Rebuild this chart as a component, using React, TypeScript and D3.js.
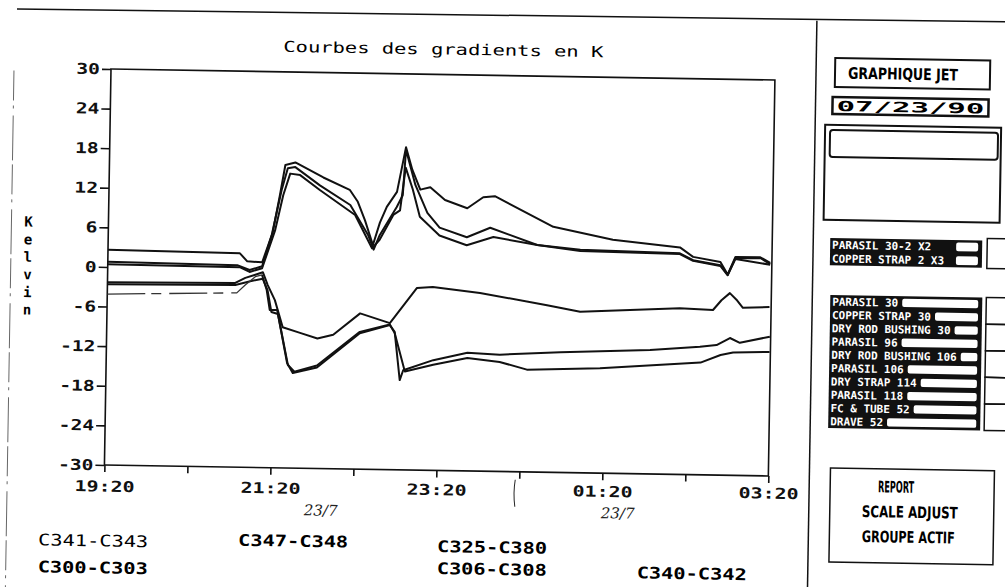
import React, { useEffect, useRef } from 'react';
import * as d3 from 'd3';

// time axis: hours after 19:20 (22/7), values in Kelvin
const xTickLabels = ['19:20', '21:20', '23:20', '01:20', '03:20'];
const yTicks = [30, 24, 18, 12, 6, 0, -6, -12, -18, -24, -30];

const u1Time = [0, 1.59, 1.68, 1.86, 1.95, 1.98, 2.06, 2.12, 2.24, 2.58, 2.9, 3.0, 3.09, 3.19, 3.27, 3.35, 3.47, 3.57, 3.65, 3.75, 3.87, 4.05, 4.32, 4.51, 4.65, 5.36, 6.08, 6.89, 7.05, 7.38, 7.47, 7.56, 7.86, 7.98];
const u1Kelvin = [2.6, 2.4, 1.2, 1.1, 4.5, 5.6, 11.3, 15.9, 16.3, 14.1, 12.3, 10.5, 7.7, 4.0, 7.4, 9.8, 12.1, 18.9, 15.5, 12.5, 12.9, 11.0, 9.8, 11.5, 11.7, 7.2, 5.4, 4.4, 3.0, 2.3, 0.4, 3.1, 3.1, 2.3];

const u2Time = [0, 1.56, 1.71, 1.86, 1.97, 2.08, 2.15, 2.24, 2.54, 2.91, 3.13, 3.2, 3.27, 3.47, 3.54, 3.57, 3.69, 3.84, 3.99, 4.32, 4.6, 5.17, 5.69, 6.89, 7.05, 7.38, 7.47, 7.56, 7.86, 7.98];
const u2Kelvin = [0.8, 0.6, -0.1, 0.5, 5.3, 12.1, 15.4, 15.6, 12.9, 10.0, 5.5, 3.3, 5.5, 9.8, 11.6, 18.5, 13.2, 9.0, 6.8, 5.4, 6.9, 4.4, 3.8, 3.5, 2.5, 1.8, 0.4, 2.9, 3.0, 2.1];

const u3Time = [0, 1.59, 1.71, 1.86, 2.01, 2.1, 2.18, 2.3, 2.54, 2.97, 3.18, 3.27, 3.43, 3.51, 3.57, 3.66, 3.75, 3.99, 4.32, 4.64, 5.17, 5.69, 6.89, 7.05, 7.38, 7.47, 7.56, 7.98];
const u3Kelvin = [0.4, 0.3, -0.4, 0.2, 6.0, 11.3, 14.6, 14.4, 12.2, 8.5, 3.5, 4.8, 8.6, 9.3, 15.8, 12.5, 8.4, 5.6, 4.2, 5.5, 4.4, 3.6, 3.4, 2.4, 1.7, 0.3, 2.8, 2.0];

const l1Time = [0, 1.54, 1.66, 1.78, 1.87, 1.93, 2.02, 2.12, 2.33, 2.54, 2.73, 3.05, 3.41, 3.73, 3.92, 4.49, 5.3, 5.7, 6.9, 7.3, 7.4, 7.5, 7.59, 7.66, 7.98];
const l1Kelvin = [-2.3, -2.1, -1.3, -0.8, -0.4, -2.3, -4.6, -8.7, -9.5, -10.3, -9.7, -6.4, -7.8, -2.4, -2.2, -3.0, -4.7, -5.6, -4.8, -5.0, -3.5, -2.4, -3.5, -4.6, -4.4];

// the dashed early trace, continued by l2
const e0Time = [0, 1.56, 1.66, 1.78, 1.86];
const e0Kelvin = [-4.1, -3.6, -2.4, -1.1, -0.8];

const l2Time = [1.86, 1.92, 1.96, 2.05, 2.18, 2.25, 2.54, 3.05, 3.41, 3.47, 3.54, 3.58, 3.94, 4.35, 4.74, 5.47, 6.55, 7.15, 7.35, 7.51, 7.63, 7.99];
const l2Kelvin = [-0.8, -3.1, -6.1, -6.1, -14.1, -15.6, -14.7, -9.4, -8.1, -9.1, -16.4, -14.9, -13.3, -12.1, -12.3, -11.8, -11.2, -10.6, -10.3, -9.2, -9.9, -8.9];

const l3Time = [0, 1.54, 1.72, 1.87, 1.93, 1.98, 2.06, 2.19, 2.27, 2.54, 3.05, 3.41, 3.47, 3.6, 3.94, 4.35, 4.74, 5.07, 5.95, 7.16, 7.4, 7.55, 7.99];
const l3Kelvin = [-2.6, -2.4, -1.8, -1.4, -3.1, -6.4, -6.7, -14.4, -15.4, -14.4, -9.2, -8.0, -9.3, -15.1, -14.0, -12.9, -13.4, -14.5, -14.1, -13.0, -11.8, -11.4, -11.2];

const pairRows = ['PARASIL 30-2 X2', 'COPPER STRAP 2 X3'];
const sensorRows = ['PARASIL 30', 'COPPER STRAP 30', 'DRY ROD BUSHING 30', 'PARASIL 96', 'DRY ROD BUSHING 106', 'PARASIL 106', 'DRY STRAP 114', 'PARASIL 118', 'FC & TUBE 52', 'DRAVE 52'];
const buttons = ['REPORT', 'SCALE ADJUST', 'GROUPE ACTIF'];
const groupLabels = ['C341-C343', 'C300-C303', 'C347-C348', 'C325-C380', 'C306-C308', 'C340-C342'];

const App: React.FC = () => {
  const ref = useRef<SVGSVGElement>(null);

  useEffect(() => {
    const svg = d3.select(ref.current);
    svg.selectAll('*').remove();
    // the scanned sheet is slightly tilted
    const g = svg.append('g').attr('transform', 'rotate(0.95 111 69)');

    const mono = "'DejaVu Sans Mono', monospace";
    const narrow = "'DejaVu Sans Condensed', 'Liberation Sans Narrow', 'DejaVu Sans', sans-serif";

    const x = d3.scaleLinear().domain([0, 8]).range([111, 775]);
    const y = d3.scaleLinear().domain([-30, 30]).range([465, 69]);

    // sheet borders
    g.append('line').attr('x1', 16).attr('y1', 10.5).attr('x2', 1012).attr('y2', 7)
      .attr('stroke', '#111').attr('stroke-width', 1.5);
    g.append('line').attr('x1', 14).attr('y1', 72).attr('x2', 14).attr('y2', 600)
      .attr('stroke', '#666').attr('stroke-width', 1).attr('stroke-dasharray', '30 5 3 7 45 4');
    g.append('line').attr('x1', 816).attr('y1', 9).attr('x2', 816).attr('y2', 600)
      .attr('stroke', '#111').attr('stroke-width', 1.5);

    g.append('text').attr('x', 443).attr('y', 49).attr('text-anchor', 'middle')
      .attr('font-family', mono).attr('font-size', 15)
      .attr('textLength', 320).attr('lengthAdjust', 'spacingAndGlyphs')
      .text('Courbes des gradients en K');

    // axes
    const yAxis = g.append('g').attr('transform', `translate(${x(0)},0)`)
      .call(d3.axisLeft(y).tickValues(yTicks).tickSize(9).tickPadding(2).tickFormat(d => String(d)));
    const xAxis = g.append('g').attr('transform', `translate(0,${y(-30)})`)
      .call(d3.axisBottom(x).tickValues(d3.range(0, 9)).tickSize(7).tickPadding(9)
        .tickFormat((d, i) => (i % 2 === 0 ? xTickLabels[i / 2] : '')));
    [yAxis, xAxis].forEach(a => {
      a.select('.domain').remove();
      a.selectAll('line').attr('stroke', '#111').attr('stroke-width', 1.6);
      a.selectAll('text')
        .attr('fill', '#111')
        .attr('font-family', mono)
        .attr('font-weight', 'bold')
        .attr('font-size', 15)
        .attr('lengthAdjust', 'spacingAndGlyphs');
    });
    yAxis.selectAll<SVGTextElement, number>('text').attr('textLength', d => String(d).length * 11.8);
    // labels sit a little flatter than the tilted axis line
    xAxis.selectAll<SVGTextElement, number>('text')
      .attr('textLength', (d, i) => (i % 2 === 0 ? 60 : 0))
      .attr('y', d => 16 - d * 0.5);

    g.append('rect').attr('x', x(0)).attr('y', y(30))
      .attr('width', x(8) - x(0)).attr('height', y(-30) - y(30))
      .attr('fill', 'none').attr('stroke', '#111').attr('stroke-width', 1.6);

    // y title, one letter per line
    g.append('g').selectAll('text').data('Kelvin'.split('')).join('text')
      .attr('x', 31).attr('y', (d, i) => 223 + i * 17.6)
      .attr('text-anchor', 'middle').attr('dominant-baseline', 'central')
      .attr('font-family', mono).attr('font-weight', 'bold').attr('font-size', 14)
      .text(d => d);

    // curves
    const curves = [
      { t: u1Time, v: u1Kelvin, dash: null },
      { t: u2Time, v: u2Kelvin, dash: null },
      { t: u3Time, v: u3Kelvin, dash: null },
      { t: l1Time, v: l1Kelvin, dash: null },
      { t: l2Time, v: l2Kelvin, dash: null },
      { t: l3Time, v: l3Kelvin, dash: null },
      { t: e0Time, v: e0Kelvin, dash: '38 6 10 8' },
    ];
    const line = d3.line<[number, number]>().x(d => x(d[0])).y(d => y(d[1]));
    g.append('g').selectAll('path').data(curves).join('path')
      .attr('d', c => line(c.t.map((t, i) => [t, c.v[i]] as [number, number])))
      .attr('fill', 'none')
      .attr('stroke', c => (c.dash ? '#333' : '#111'))
      .attr('stroke-width', c => (c.dash ? 1.3 : 2))
      .attr('stroke-linejoin', 'round')
      .attr('stroke-dasharray', c => c.dash);

    // handwritten notes
    const hand = "'DejaVu Serif', serif";
    [[328, 507], [625, 505]].forEach(([hx, hy]) => {
      g.append('text').attr('x', hx).attr('y', hy).attr('text-anchor', 'middle')
        .attr('dominant-baseline', 'central').attr('font-family', hand)
        .attr('font-style', 'italic').attr('font-size', 15).attr('fill', '#222')
        .text('23/7');
    });
    g.append('path').attr('d', 'M522,473 Q520,486 522,500').attr('fill', 'none')
      .attr('stroke', '#222').attr('stroke-width', 1);

    // channel groups under the chart
    const groupPos = [[46, 541, 'normal'], [46, 568, 'bold'], [246, 538, 'bold'], [445, 541, 'bold'], [445, 563, 'bold'], [645, 564, 'bold']];
    groupLabels.forEach((lab, i) => {
      const [gx, gy, w] = groupPos[i];
      g.append('text').attr('x', gx).attr('y', gy).attr('dominant-baseline', 'central')
        .attr('font-family', mono).attr('font-size', 16).attr('font-weight', w as string)
        .attr('textLength', 110).attr('lengthAdjust', 'spacingAndGlyphs')
        .text(lab);
    });

    // right-hand menu panel
    g.append('rect').attr('x', 835).attr('y', 46).attr('width', 155).attr('height', 29)
      .attr('fill', 'none').attr('stroke', '#111').attr('stroke-width', 2);
    g.append('text').attr('x', 903).attr('y', 61).attr('text-anchor', 'middle')
      .attr('dominant-baseline', 'central').attr('font-family', narrow).attr('font-weight', 'bold')
      .attr('font-size', 16).attr('textLength', 110).attr('lengthAdjust', 'spacingAndGlyphs')
      .text('GRAPHIQUE JET');

    g.append('rect').attr('x', 833).attr('y', 85).attr('width', 156).attr('height', 17)
      .attr('fill', 'none').attr('stroke', '#111').attr('stroke-width', 2.5);
    g.append('text').attr('x', 911).attr('y', 94).attr('text-anchor', 'middle')
      .attr('dominant-baseline', 'central').attr('font-family', mono).attr('font-weight', 'bold')
      .attr('font-size', 14).attr('textLength', 148).attr('lengthAdjust', 'spacingAndGlyphs')
      .text('07/23/90');

    g.append('rect').attr('x', 826).attr('y', 113).attr('width', 176).attr('height', 95)
      .attr('fill', 'none').attr('stroke', '#111').attr('stroke-width', 2);
    g.append('rect').attr('x', 831).attr('y', 118).attr('width', 168).attr('height', 27).attr('rx', 3)
      .attr('fill', 'none').attr('stroke', '#111').attr('stroke-width', 2);

    const rowBlock = (labels: string[], x0: number, y0: number, w: number, rowH: number, fixedBox: boolean) => {
      g.append('rect').attr('x', x0).attr('y', y0).attr('width', w).attr('height', rowH * labels.length)
        .attr('fill', '#111');
      labels.forEach((lab, i) => {
        const ry = y0 + i * rowH;
        const textW = lab.length * 6.6;
        g.append('text').attr('x', x0 + 2).attr('y', ry + rowH / 2 + 0.5).attr('dominant-baseline', 'central')
          .attr('font-family', mono).attr('font-weight', 'bold').attr('font-size', 11)
          .attr('textLength', textW).attr('lengthAdjust', 'spacingAndGlyphs')
          .attr('fill', '#fff').text(lab);
        const bx = fixedBox ? x0 + w - 26 : x0 + 6 + textW;
        const bw = x0 + w - 4 - bx;
        if (bw > 3) {
          g.append('rect').attr('x', bx).attr('y', ry + 2.5).attr('width', bw).attr('height', rowH - 5)
            .attr('rx', 2).attr('fill', '#fff');
        }
      });
    };
    rowBlock(pairRows, 833, 226, 152, 13.7, true);
    g.append('rect').attr('x', 990).attr('y', 224).attr('width', 22).attr('height', 30)
      .attr('fill', 'none').attr('stroke', '#111').attr('stroke-width', 1.5);

    rowBlock(sensorRows, 834, 283, 152, 13.3, false);
    d3.range(5).forEach(i => {
      g.append('rect').attr('x', 990).attr('y', 283 + i * 26.6).attr('width', 22).attr('height', 26.6)
        .attr('fill', 'none').attr('stroke', '#111').attr('stroke-width', 1.5);
    });

    g.append('rect').attr('x', 837).attr('y', 456).attr('width', 164).attr('height', 94)
      .attr('fill', 'none').attr('stroke', '#111').attr('stroke-width', 1.5);
    const btnX = [903, 917, 916];
    const btnW = [36, 96, 93];
    buttons.forEach((b, i) => {
      g.append('text').attr('x', btnX[i]).attr('y', 474 + i * 25).attr('text-anchor', 'middle')
        .attr('dominant-baseline', 'central').attr('font-family', narrow).attr('font-weight', 'bold')
        .attr('font-size', 16).attr('textLength', btnW[i]).attr('lengthAdjust', 'spacingAndGlyphs')
        .text(b);
    });
  }, []);

  return (
    <svg ref={ref} width={1005} height={587}
      style={{ position: 'absolute', left: 0, top: 0, background: '#fff' }} />
  );
};

export default App;
